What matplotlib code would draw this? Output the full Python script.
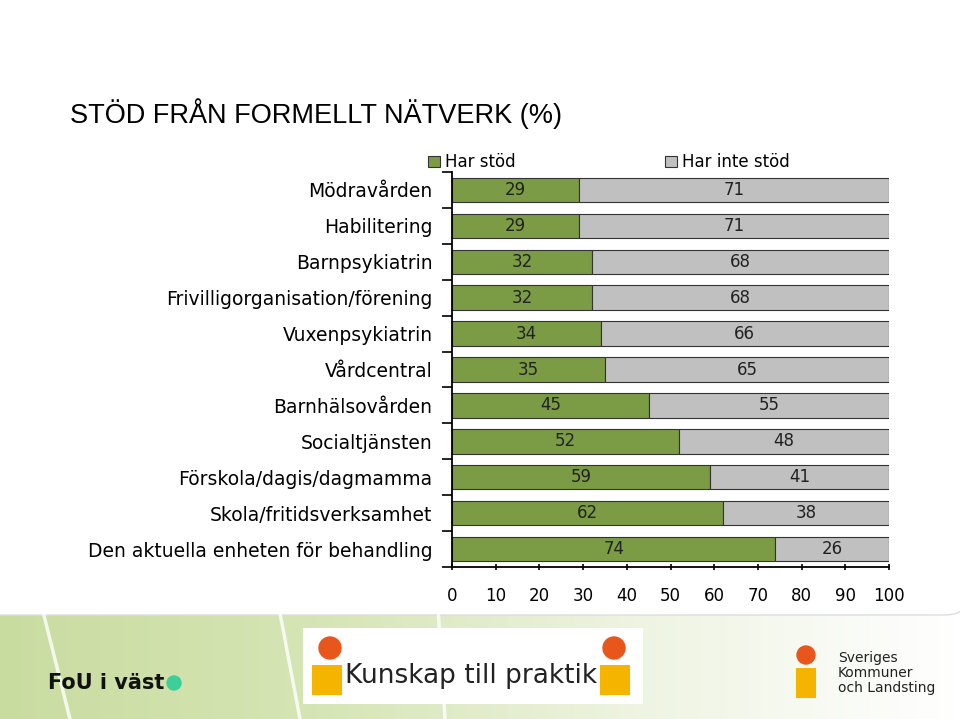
import matplotlib.pyplot as plt
import numpy as np
from matplotlib.colors import LinearSegmentedColormap
from matplotlib.patches import FancyBboxPatch, Rectangle, Circle

categories = ['Mödravården', 'Habilitering', 'Barnpsykiatrin',
              'Frivilligorganisation/förening', 'Vuxenpsykiatrin', 'Vårdcentral',
              'Barnhälsovården', 'Socialtjänsten', 'Förskola/dagis/dagmamma',
              'Skola/fritidsverksamhet', 'Den aktuella enheten för behandling']
har_stod = [29, 29, 32, 32, 34, 35, 45, 52, 59, 62, 74]
har_inte_stod = [71, 71, 68, 68, 66, 65, 55, 48, 41, 38, 26]
series_names = ['Har stöd', 'Har inte stöd']
xticks = [0, 10, 20, 30, 40, 50, 60, 70, 80, 90, 100]

green = '#7b9b45'
grey = '#c0c0c0'

fig = plt.figure(figsize=(9.6, 7.19), dpi=100)

# slide background: green band at the bottom, white rounded panel on top
bg = fig.add_axes([0, 0, 1, 1], zorder=-10)
bg.set_xlim(0, 960)
bg.set_ylim(719, 0)
bg.axis('off')
grad = np.linspace(0, 1, 256)[None, :]
cmap = LinearSegmentedColormap.from_list('g', ['#c9dca0', '#d6e5b5', '#eef4e2', '#ffffff'])
bg.imshow(grad, extent=[0, 960, 719, 560], cmap=cmap, aspect='auto')
for x0, x1 in [(30, 70), (270, 300), (435, 445)]:
    bg.plot([x0, x1], [560, 719], color='white', lw=2.5, alpha=0.8)
bg.add_patch(FancyBboxPatch((-30, -40), 1000, 655, boxstyle='round,pad=0,rounding_size=25',
                            fc='white', ec='#dddddd', lw=1))

# logos, drawn roughly
bg.text(48, 683, 'FoU i väst', fontsize=15, fontweight='bold', color='#111111',
        va='center')
bg.add_patch(Circle((174, 683), 7, color='#3ccf9a'))
bg.add_patch(Rectangle((303, 628), 340, 76, fc='white', ec='none'))
bg.add_patch(Circle((330, 648), 11, color='#e8561c'))
bg.add_patch(Circle((614, 648), 11, color='#e8561c'))
bg.add_patch(Rectangle((312, 665), 30, 30, fc='#f4b400', ec='none'))
bg.add_patch(Rectangle((600, 665), 30, 30, fc='#f4b400', ec='none'))
bg.text(471, 676, 'Kunskap till praktik', fontsize=19, ha='center', va='center',
        color='#222222')
bg.add_patch(Circle((806, 655), 9, color='#e8561c'))
bg.add_patch(Rectangle((796, 668), 20, 30, fc='#f4b400', ec='none'))
bg.text(838, 673, 'Sveriges\nKommuner\noch Landsting', fontsize=10, va='center',
        linespacing=1.05, color='#222222')

fig.text(70 / 960, 1 - 114 / 719, 'STÖD FRÅN FORMELLT NÄTVERK (%)', fontsize=19.5,
         family='Liberation Sans', va='center', ha='left')

ax = fig.add_axes([452 / 960, 1 - 567 / 719, 437 / 960, 395 / 719])
y = np.arange(len(categories))
b1 = ax.barh(y, har_stod, height=0.68, color=green, edgecolor='#333333', lw=0.8,
             label=series_names[0])
b2 = ax.barh(y, har_inte_stod, left=har_stod, height=0.68, color=grey,
             edgecolor='#333333', lw=0.8, label=series_names[1])
ax.bar_label(b1, label_type='center', fontsize=12, color='#222222')
ax.bar_label(b2, label_type='center', fontsize=12, color='#222222')

ax.set_xlim(0, 100)
ax.set_ylim(len(categories) - 0.5, -0.5)
ax.set_xticks(xticks)
ax.set_yticks(y)
ax.set_yticklabels(categories, fontsize=13.5)
ax.set_yticks(np.arange(-0.5, len(categories), 1), minor=True)
ax.tick_params(axis='y', which='major', length=0, pad=14)
ax.tick_params(axis='y', which='minor', length=7, width=1.2)
ax.tick_params(axis='x', labelsize=12, length=5, width=1.2, direction='inout', pad=12)
for s in ['top', 'right']:
    ax.spines[s].set_visible(False)
for s in ['left', 'bottom']:
    ax.spines[s].set_linewidth(1.3)

ax.legend(loc='lower left', bbox_to_anchor=(-0.07, 0.985), ncol=2, frameon=False,
          fontsize=12, handlelength=0.7, handleheight=0.7, handletextpad=0.3,
          columnspacing=9.0, borderaxespad=0)

fig.savefig('out.png', dpi=100)
